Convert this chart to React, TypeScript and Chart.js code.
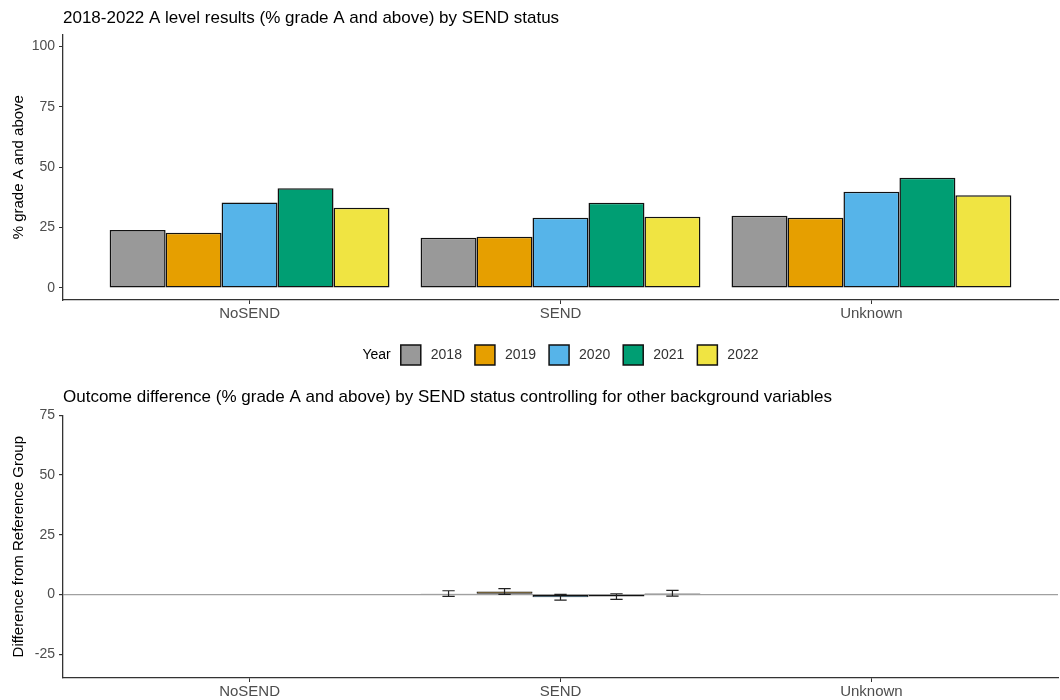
import React, { useEffect, useRef } from 'react';
import { Chart, registerables } from 'chart.js';

Chart.register(...registerables);

// ---------- data ----------
const categories = ['NoSEND', 'SEND', 'Unknown'];
const years = ['2018', '2019', '2020', '2021', '2022'];
const yearColors = ['#999999', '#E69F00', '#56B4E9', '#009E73', '#F0E442'];

const results2018 = [24.0, 20.8, 29.9];
const results2019 = [22.9, 21.2, 29.1];
const results2020 = [35.4, 29.1, 39.8];
const results2021 = [41.3, 35.3, 45.6];
const results2022 = [33.2, 29.5, 38.4];

const diff2018 = [null, 0.35, null];
const diff2019 = [null, 1.25, null];
const diff2020 = [null, -1.2, null];
const diff2021 = [null, -0.9, null];
const diff2022 = [null, 0.5, null];

const err2018 = [null, 1.2, null];
const err2019 = [null, 1.2, null];
const err2020 = [null, 1.2, null];
const err2021 = [null, 1.2, null];
const err2022 = [null, 1.2, null];

const topTicks = [0, 25, 50, 75, 100];
const bottomTicks = [-25, 0, 25, 50, 75];

const topTitle = '2018-2022 A level results (% grade A and above) by SEND status';
const bottomTitle = 'Outcome difference (% grade A and above) by SEND status controlling for other background variables';
const topYTitle = '% grade A and above';
const bottomYTitle = 'Difference from Reference Group';
const legendTitle = 'Year';

const resultsByYear = [results2018, results2019, results2020, results2021, results2022];
const diffByYear = [diff2018, diff2019, diff2020, diff2021, diff2022];
const errByYear = [err2018, err2019, err2020, err2021, err2022];

const FONT = '"Liberation Sans", Arial, sans-serif';

// ---------- plugins ----------
const errorBarPlugin = {
  id: 'errorBars',
  afterDatasetsDraw(chart: any) {
    const ctx = chart.ctx;
    const yScale = chart.scales.y;
    chart.data.datasets.forEach((ds: any, i: number) => {
      if (!ds.errors) return;
      const meta = chart.getDatasetMeta(i);
      meta.data.forEach((el: any, j: number) => {
        const pt = ds.data[j];
        const e = ds.errors[j];
        if (!pt || pt.y == null || e == null) return;
        const x = el.x;
        const yTop = yScale.getPixelForValue(pt.y + e);
        const yBot = yScale.getPixelForValue(pt.y - e);
        const hw = el.width * 0.11;
        ctx.save();
        ctx.strokeStyle = '#222';
        ctx.lineWidth = 1.2;
        ctx.beginPath();
        ctx.moveTo(x, yTop);
        ctx.lineTo(x, yBot);
        ctx.moveTo(x - hw, yTop);
        ctx.lineTo(x + hw, yTop);
        ctx.moveTo(x - hw, yBot);
        ctx.lineTo(x + hw, yBot);
        ctx.stroke();
        ctx.restore();
      });
    });
  },
};

const yearLegendPlugin = {
  id: 'yearLegend',
  afterDraw(chart: any) {
    const ctx = chart.ctx;
    ctx.save();
    ctx.font = `14px ${FONT}`;
    ctx.textBaseline = 'middle';
    ctx.textAlign = 'left';
    const box = 20;
    const gapTitle = 10;
    const gapBoxText = 10;
    const gapItem = 13;
    const titleW = ctx.measureText(legendTitle).width;
    const labelWs = years.map((y) => ctx.measureText(y).width);
    const total =
      titleW +
      gapTitle +
      labelWs.reduce((a, w) => a + box + gapBoxText + w, 0) +
      gapItem * (years.length - 1);
    const cx = (chart.chartArea.left + chart.chartArea.right) / 2;
    const cy = chart.chartArea.bottom + 55;
    let x = cx - total / 2;
    ctx.fillStyle = '#000';
    ctx.fillText(legendTitle, x, cy);
    x += titleW + gapTitle;
    years.forEach((y, i) => {
      ctx.fillStyle = yearColors[i];
      ctx.fillRect(x, cy - box / 2, box, box);
      ctx.strokeStyle = '#111';
      ctx.lineWidth = 1.5;
      ctx.strokeRect(x, cy - box / 2, box, box);
      x += box + gapBoxText;
      ctx.fillStyle = '#333';
      ctx.fillText(y, x, cy);
      x += labelWs[i] + gapItem;
    });
    ctx.restore();
  },
};

// ---------- chart builder ----------
function makeConfig(opts: {
  title: string;
  yTitle: string;
  values: (number | null)[][];
  errors?: (number | null)[][];
  yMin: number;
  yMax: number;
  yTicks: number[];
  xAxisHeight: number;
  titlePadTop: number;
  titlePadBottom: number;
  barBorder: number;
  zeroLine: boolean;
  plugins: any[];
}) {
  const datasets = years.map((yr, i) => ({
    label: yr,
    data: opts.values[i].map((v, j) => ({ x: j, y: v })),
    errors: opts.errors ? opts.errors[i] : undefined,
    backgroundColor: yearColors[i],
    borderColor: '#111',
    borderWidth: opts.barBorder,
    borderSkipped: false,
    categoryPercentage: 0.9,
    barPercentage: 1.0,
  }));
  return {
    type: 'bar',
    data: { datasets },
    plugins: opts.plugins,
    options: {
      responsive: false,
      animation: false,
      devicePixelRatio: 1,
      layout: { padding: { left: 0, right: 2, top: 0, bottom: 0 } },
      plugins: {
        legend: { display: false },
        tooltip: { enabled: false },
        title: {
          display: true,
          text: opts.title,
          align: 'start',
          fullSize: false,
          color: '#000',
          font: { family: FONT, size: 17, weight: 'normal' },
          padding: { top: opts.titlePadTop, bottom: opts.titlePadBottom },
        },
      },
      scales: {
        x: {
          type: 'linear',
          offset: false,
          min: -0.6,
          max: 2.6,
          afterBuildTicks: (axis: any) => {
            axis.ticks = categories.map((_, i) => ({ value: i }));
          },
          afterFit: (axis: any) => {
            axis.height = opts.xAxisHeight;
          },
          ticks: {
            callback: (v: any) => categories[v] ?? '',
            color: '#4d4d4d',
            font: { family: FONT, size: 15 },
            padding: 1,
            maxRotation: 0,
            autoSkip: false,
          },
          grid: {
            offset: false,
            drawOnChartArea: false,
            drawTicks: true,
            tickLength: 4,
            color: '#333',
          },
          border: { display: true, color: '#333', width: 1.3 },
        },
        y: {
          min: opts.yMin,
          max: opts.yMax,
          afterBuildTicks: (axis: any) => {
            axis.ticks = opts.yTicks.map((v) => ({ value: v }));
          },
          afterFit: (axis: any) => {
            axis.width = 63;
          },
          ticks: {
            color: '#4d4d4d',
            font: { family: FONT, size: 14 },
            padding: 4,
          },
          grid: opts.zeroLine
            ? {
                drawOnChartArea: true,
                drawTicks: true,
                tickLength: 4,
                color: (c: any) => (c.tick && c.tick.value === 0 ? '#a0a0a0' : 'rgba(0,0,0,0)'),
                tickColor: '#333',
                lineWidth: 1.2,
              }
            : {
                drawOnChartArea: false,
                drawTicks: true,
                tickLength: 4,
                color: '#333',
              },
          border: { display: true, color: '#333', width: 1.3 },
          title: {
            display: true,
            text: opts.yTitle,
            color: '#000',
            font: { family: FONT, size: 15 },
            padding: { top: 10, bottom: 0 },
          },
        },
      },
    },
  } as any;
}

function ChartCanvas({ config, height }: { config: any; height: number }) {
  const ref = useRef<HTMLCanvasElement | null>(null);
  useEffect(() => {
    if (!ref.current) return;
    const chart = new Chart(ref.current, config);
    return () => chart.destroy();
  }, [config]);
  return <canvas ref={ref} width={1060} height={height} style={{ display: 'block', width: 1060, height }} />;
}

const topConfig = makeConfig({
  title: topTitle,
  yTitle: topYTitle,
  values: resultsByYear,
  yMin: -5,
  yMax: 105,
  yTicks: topTicks,
  xAxisHeight: 80,
  titlePadTop: 8,
  titlePadBottom: 6,
  barBorder: 1.5,
  zeroLine: false,
  plugins: [yearLegendPlugin],
});

const bottomConfig = makeConfig({
  title: bottomTitle,
  yTitle: bottomYTitle,
  values: diffByYear,
  errors: errByYear,
  yMin: -35,
  yMax: 75,
  yTicks: bottomTicks,
  xAxisHeight: 22,
  titlePadTop: 7,
  titlePadBottom: 8,
  barBorder: 1,
  zeroLine: true,
  plugins: [errorBarPlugin],
});

export default function App() {
  return (
    <div
      style={{
        position: 'fixed',
        left: 0,
        top: 0,
        width: 1060,
        height: 700,
        background: '#ffffff',
        overflow: 'hidden',
      }}
    >
      <ChartCanvas config={topConfig} height={380} />
      <ChartCanvas config={bottomConfig} height={320} />
    </div>
  );
}
